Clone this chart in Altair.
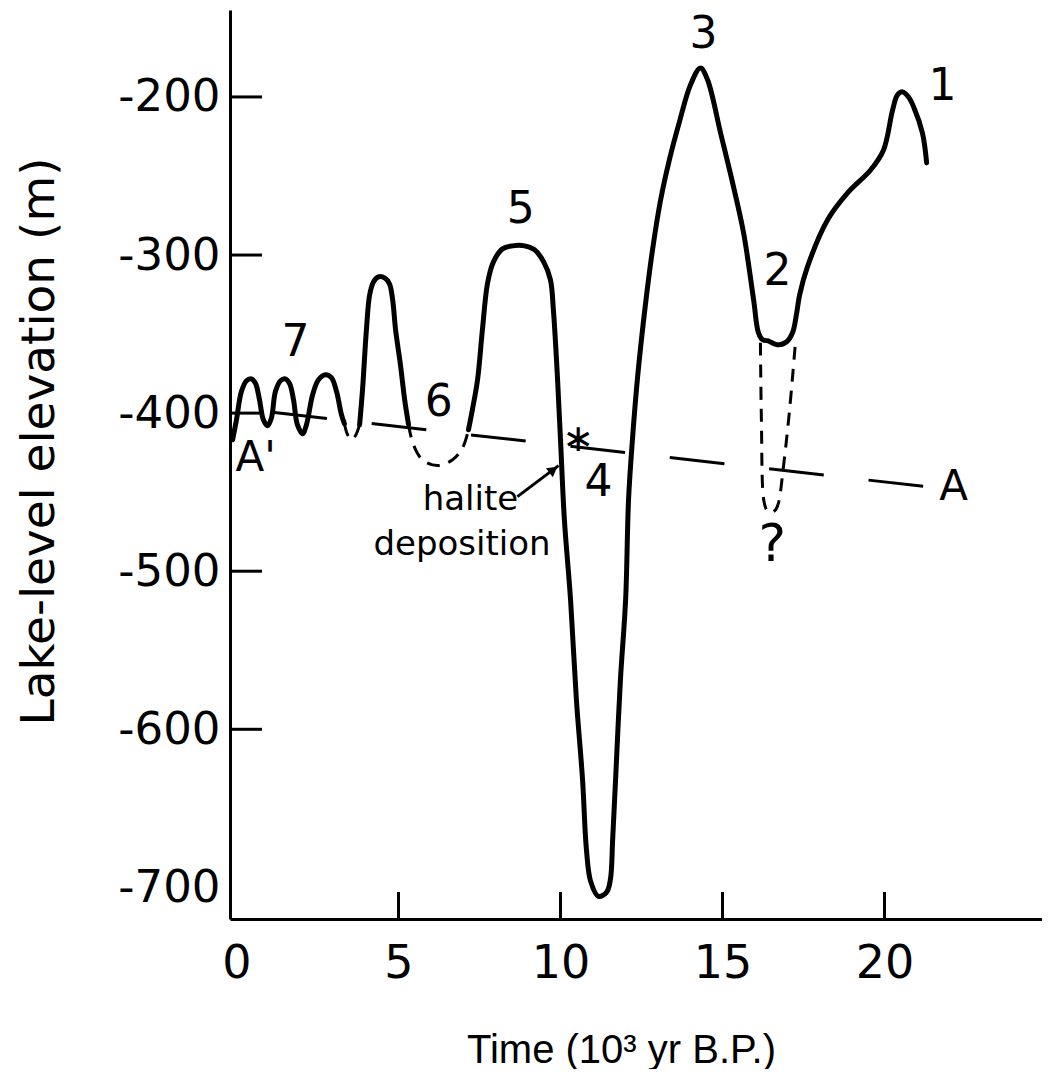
import altair as alt
import pandas as pd

# ---- data (x: 10^3 yr B.P., y: lake-level elevation in m) ----
# solid lake-level curve, three pieces
s1_x = [-0.12, 0.0, 0.15, 0.31, 0.46, 0.59, 0.71, 0.83, 0.96, 1.08, 1.20, 1.36, 1.51, 1.64, 1.76,
        1.88, 2.04, 2.16, 2.35, 2.53, 2.75, 2.93, 3.09, 3.24, 3.33]
s1_y = [-416.8, -404.2, -386.5, -379.5, -378.3, -381.4, -391.5, -404.2, -408.0, -402.9, -386.5,
        -379.5, -378.3, -381.4, -391.5, -407.3, -413.0, -407.3, -388.4, -378.9, -375.7, -377.6,
        -386.5, -401.0, -406.7]
s2_x = [3.80, 3.89, 4.01, 4.11, 4.23, 4.38, 4.57, 4.72, 4.82, 4.91, 5.06, 5.19, 5.31]
s2_y = [-407.3, -385.2, -347.3, -325.2, -316.9, -313.8, -314.4, -318.2, -328.3, -347.3, -369.4,
        -391.5, -407.3]
s3_x = [7.16, 7.28, 7.44, 7.59, 7.75, 7.93, 8.21, 8.52, 8.89, 9.20, 9.48, 9.69, 9.78, 9.85, 9.91,
        10.00, 10.12, 10.31, 10.49, 10.68, 10.80, 10.93, 11.17, 11.42, 11.54, 11.61, 11.70, 11.85,
        12.01, 12.10, 12.22, 12.38, 12.62, 12.84, 13.09, 13.36, 13.67, 14.01, 14.32, 14.54, 14.94,
        15.34, 15.65, 15.96, 16.11, 16.24, 16.39, 16.73, 16.98, 17.16, 17.28, 17.38, 17.62, 18.24,
        18.86, 19.57, 19.97, 20.25, 20.40, 20.56, 20.74, 20.90, 21.17, 21.30]
s3_y = [-410.5, -397.9, -378.9, -347.3, -317.6, -304.3, -296.1, -294.2, -294.2, -296.7, -304.3,
        -315.7, -334.6, -356.8, -378.9, -416.8, -467.4, -518.0, -581.2, -631.7, -676.0, -696.2,
        -705.7, -703.2, -695.0, -669.7, -631.7, -568.5, -518.0, -454.7, -416.8, -377.0, -331.5,
        -296.7, -265.1, -239.8, -215.8, -192.4, -181.7, -189.3, -222.8, -256.9, -286.0, -328.3,
        -349.2, -353.6, -354.2, -356.8, -354.9, -349.2, -337.8, -325.2, -307.5, -277.8, -260.7,
        -246.2, -233.5, -208.2, -198.7, -196.8, -200.0, -206.3, -222.8, -241.7]

# dashed (inferred) parts of the curve
d1_x = [3.33, 3.43, 3.55, 3.67, 3.80]
d1_y = [-406.7, -413.7, -416.8, -414.3, -407.3]
d2_x = [5.31, 5.46, 5.74, 6.20, 6.67, 6.98, 7.16]
d2_y = [-407.3, -420.0, -429.5, -433.2, -429.5, -421.9, -410.5]
d3_x = [16.17, 16.20, 16.27, 16.36, 16.48, 16.64, 16.73, 16.88, 17.07, 17.25]
d3_y = [-355.5, -404.2, -454.7, -461.1, -463.0, -461.1, -456.6, -433.9, -397.9, -355.5]

# line A'-A
aa_x = [-0.12, 21.27]
aa_y = [-396.6, -446.5]

# annotations
num_text = ["1", "2", "3", "4", "5", "6", "7"]
num_x = [21.79, 16.70, 14.41, 11.17, 8.77, 6.24, 1.82]
num_y = [-193.7, -310.6, -161.0, -444.0, -271.4, -393.4, -355.5]
a_text = ["A'", "A"]
a_x = [0.59, 22.13]
a_y = [-428.2, -446.5]
q_text = ["?"]
q_x = [16.54]
q_y = [-483.2]
star_text = ["\u2217"]
star_x = [10.55]
star_y = [-417.0]
hal_text = ["halite", "deposition"]
hal_x = [7.22, 6.96]
hal_y = [-454.7, -483.2]
arrow_x = [8.67, 9.94]
arrow_y = [-452.8, -433.2]
head_x = [9.78]
head_y = [-435.8]

x_ticks = [5, 10, 15, 20]
y_ticks = [-200, -300, -400, -500, -600]
x_labels = [0, 5, 10, 15, 20]
y_labels = [-700, -600, -500, -400, -300, -200]


def seg(xs, ys, name):
    return pd.DataFrame({"t": xs, "z": ys, "seg": name, "i": list(range(len(xs)))})


solid = pd.concat([seg(s1_x, s1_y, "s1"), seg(s2_x, s2_y, "s2"), seg(s3_x, s3_y, "s3")])
dashed = pd.concat([seg(d1_x, d1_y, "d1"), seg(d2_x, d2_y, "d2"), seg(d3_x, d3_y, "d3")])
aline = seg(aa_x, aa_y, "a")
arrow = seg(arrow_x, arrow_y, "arrow")

xs = alt.Scale(domain=[-0.2, 24.86], nice=False, zero=False)
ys = alt.Scale(domain=[-720, -145], nice=False, zero=False)

xaxis = alt.Axis(values=x_labels, ticks=False, tickSize=0, grid=False, domainColor="black",
                 domainWidth=3, labelFont="DejaVu Sans", labelFontSize=46, labelColor="black",
                 labelPadding=44, labelBaseline="middle", labelFlush=False, labelOverlap=False,
                 format="d", title="Time (10\u00b3 yr B.P.)", titleFont="Liberation Sans",
                 titleFontSize=40, titleFontWeight="normal", titleColor="black", titleX=391,
                 titleY=143, titleBaseline="alphabetic", titleAlign="center")
yaxis = alt.Axis(values=y_labels, ticks=False, tickSize=0, grid=False, domainColor="black",
                 domainWidth=3, labelFont="DejaVu Sans", labelFontSize=45, labelColor="black",
                 labelPadding=10, labelFlush=False, labelOverlap=False,
                 labelExpr="'-' + abs(datum.value)",
                 title="Lake-level elevation (m)", titleFont="DejaVu Sans", titleFontSize=47,
                 titleFontWeight="normal", titleColor="black", titleAngle=270, titleX=-177,
                 titleY=431, titleBaseline="alphabetic", titleAlign="center")

X = alt.X("t:Q", scale=xs, axis=xaxis)
Y = alt.Y("z:Q", scale=ys, axis=yaxis)

base_solid = alt.Chart(solid).mark_line(
    color="black", strokeWidth=5, interpolate="catmull-rom", strokeCap="round", strokeJoin="round"
).encode(x=X, y=Y, detail="seg:N", order="i:Q")

dash_layer = alt.Chart(dashed).mark_line(
    color="black", strokeWidth=3, interpolate="catmull-rom", strokeDash=[13, 9]
).encode(x=X, y=Y, detail="seg:N", order="i:Q")

a_layer = alt.Chart(aline).mark_line(
    color="black", strokeWidth=3, strokeDash=[55, 45], strokeDashOffset=60
).encode(x=X, y=Y, order="i:Q")

arrow_layer = alt.Chart(arrow).mark_line(color="black", strokeWidth=3).encode(
    x=X, y=Y, order="i:Q")

head_layer = alt.Chart(pd.DataFrame({"t": head_x, "z": head_y})).mark_point(
    shape="triangle-up", angle=53, size=130, filled=True, color="black", opacity=1
).encode(x=X, y=Y)

ytick_layer = alt.Chart(pd.DataFrame({"z": y_ticks})).mark_rule(color="black", strokeWidth=3).encode(
    y=Y, x=alt.value(0), x2=alt.value(32))
xtick_layer = alt.Chart(pd.DataFrame({"t": x_ticks})).mark_rule(color="black", strokeWidth=3).encode(
    x=X, y=alt.value(909), y2=alt.value(882))


def text_layer(texts, xv, yv, size):
    return alt.Chart(pd.DataFrame({"t": xv, "z": yv, "s": texts})).mark_text(
        font="DejaVu Sans", fontSize=size, color="black", align="center", baseline="middle"
    ).encode(x=X, y=Y, text="s:N")


chart = alt.layer(
    base_solid, dash_layer, a_layer, arrow_layer, head_layer, ytick_layer, xtick_layer,
    text_layer(num_text, num_x, num_y, 44),
    text_layer(a_text, a_x, a_y, 42),
    text_layer(q_text, q_x, q_y, 52),
    text_layer(star_text, star_x, star_y, 38),
    text_layer(hal_text, hal_x, hal_y, 34),
).properties(
    width=812, height=909,
    autosize=alt.AutoSizeParams(type="none"),
    padding={"left": 222, "top": 2, "right": 0, "bottom": 150},
    background="white",
).configure_view(strokeWidth=0)

chart.save("out.html", embed_options={"renderer": "svg", "actions": False})
